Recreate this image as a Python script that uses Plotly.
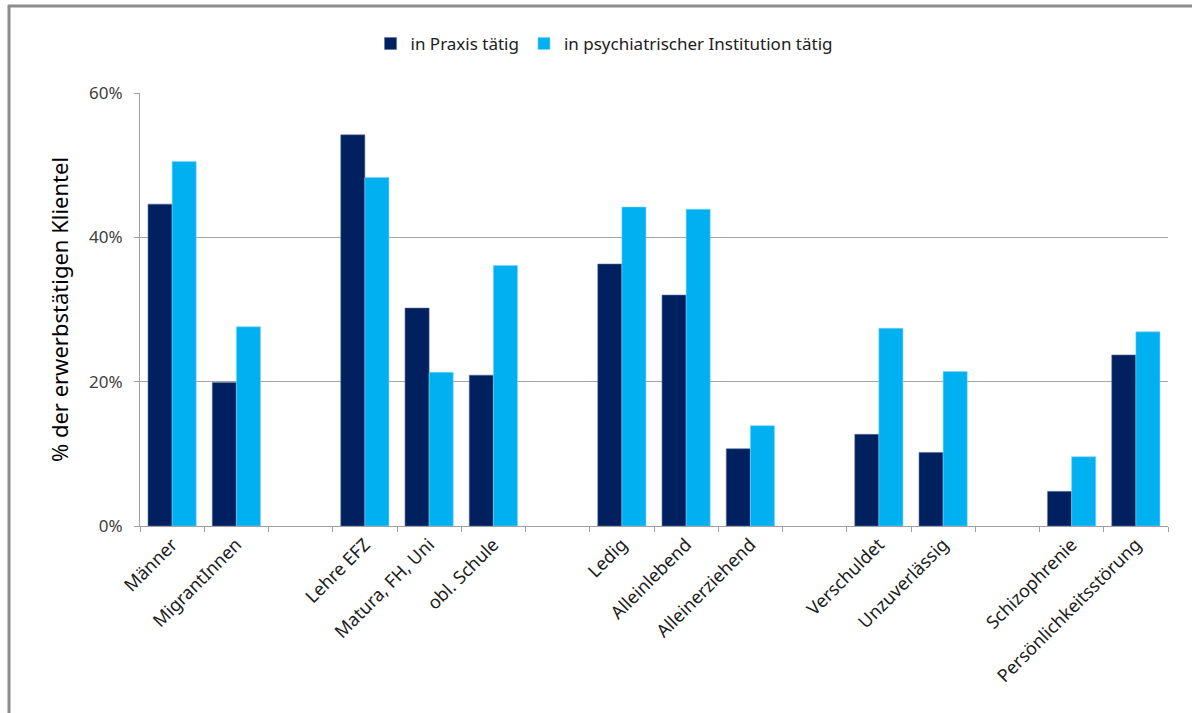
import plotly.graph_objects as go

categories = ["Männer", "MigrantInnen", " ", "Lehre EFZ", "Matura, FH, Uni", "obl. Schule", "  ",
              "Ledig", "Alleinlebend", "Alleinerziehend", "   ", "Verschuldet", "Unzuverlässig", "    ",
              "Schizophrenie", "Persönlichkeitsstörung"]
praxis = [44.6, 19.9, None, 54.2, 30.2, 20.9, None, 36.3, 32.0, 10.7, None, 12.7, 10.2, None, 4.8, 23.7]
institution = [50.5, 27.6, None, 48.3, 21.3, 36.1, None, 44.2, 43.9, 13.9, None, 27.4, 21.4, None, 9.6, 26.9]
y_ticks = [0, 20, 40, 60]
y_tick_labels = ["0%", "20%", "40%", "60%"]

font_family = "Noto Sans, Open Sans, sans-serif"

# plot area target: x 140..1168, y 93..526 (screen); body margin removed via post_script
L, T = 140, 93
R = 1192 - 1168
B = 713 - 526
PW, PH = 1028, 433

fig = go.Figure()
fig.add_trace(go.Bar(x=categories, y=praxis, name="in Praxis tätig",
                     marker=dict(color="#002060", line=dict(color="#5a6f9a", width=0.6))))
fig.add_trace(go.Bar(x=categories, y=institution, name="in psychiatrischer Institution tätig",
                     marker=dict(color="#00B0F0", line=dict(color="#7fd4f7", width=0.6))))

fig.update_layout(
    width=1192, height=713,
    margin=dict(l=L, r=R, t=T, b=B, autoexpand=False),
    paper_bgcolor="white", plot_bgcolor="white",
    barmode="group", bargap=0.25, bargroupgap=0,
    font=dict(family=font_family, color="#404040"),
    legend=dict(orientation="h", x=0.4514, xanchor="center", y=(526 - 44) / PH, yanchor="middle",
                font=dict(size=17, color="#202020"), bgcolor="rgba(0,0,0,0)",
                itemwidth=30, traceorder="normal"),
    xaxis=dict(type="category", showline=True, linecolor="#A0A0A0", linewidth=1,
               ticks="outside", tickson="boundaries", ticklen=5, tickcolor="#A0A0A0",
               tickangle=-45, tickfont=dict(size=18, color="#202020"), showgrid=False),
    yaxis=dict(range=[0, 60], tickvals=y_ticks, ticktext=y_tick_labels,
               showline=True, linecolor="#A0A0A0", linewidth=1,
               ticks="outside", ticklen=5, tickcolor="#A0A0A0", ticklabelstandoff=8,
               tickfont=dict(size=17, color="#404040"),
               showgrid=True, gridcolor="#A6A6A6", gridwidth=1, zeroline=False,
               title=dict(text="% der erwerbstätigen Klientel", font=dict(size=22, color="#000000"),
                          standoff=14)),
    shapes=[
        dict(type="line", xref="paper", yref="paper", x0=(9 - 140) / PW, x1=(9 - 140) / PW,
             y0=(526 - 5) / PH, y1=(526 - 730) / PH, line=dict(color="#8c8c8c", width=3)),
        dict(type="line", xref="paper", yref="paper", x0=(8 - 140) / PW, x1=(1210 - 140) / PW,
             y0=(526 - 6) / PH, y1=(526 - 6) / PH, line=dict(color="#8c8c8c", width=3)),
    ],
)

fig.write_html("out.html", config={"displayModeBar": False},
               post_script="document.body.style.margin='0';document.body.style.padding='0';")
